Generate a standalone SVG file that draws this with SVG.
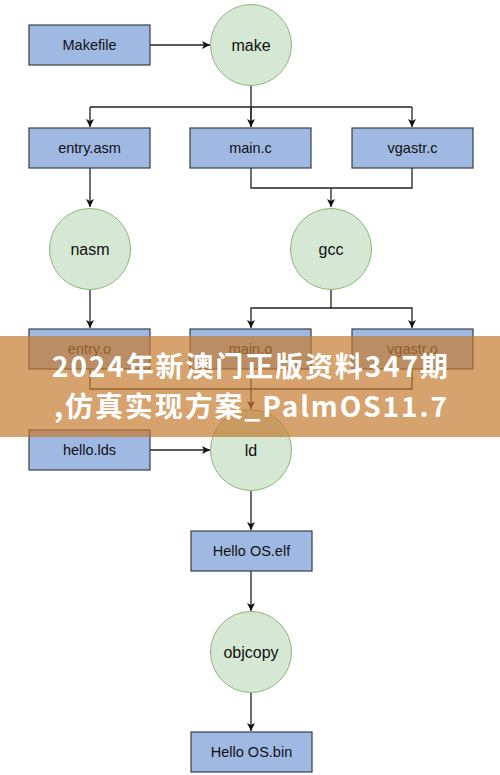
<svg xmlns="http://www.w3.org/2000/svg" width="500" height="775" viewBox="0 0 500 775">
<defs>
<marker id="ah" markerWidth="10" markerHeight="10" refX="9" refY="5" orient="auto" markerUnits="userSpaceOnUse">
<path d="M1,1 L9,5 L1,9 L3,5 Z" fill="#111"/>
</marker>
<style>
.box{fill:#a0b9e2;stroke:#3a3d42;stroke-width:1.2}
.cir{fill:#d5e8d4;stroke:#8fb57a;stroke-width:1}
.bt{font-family:"Liberation Sans",Arial,sans-serif;font-size:14.5px;fill:#111;text-anchor:middle;dominant-baseline:central}
.ct{font-family:"Liberation Sans",Arial,sans-serif;font-size:16px;fill:#111;text-anchor:middle;dominant-baseline:central}
.ln{fill:none;stroke:#222;stroke-width:1.3}
.ban{font-family:"Noto Sans CJK SC","Noto Sans",sans-serif;font-weight:bold;font-size:28px;fill:#fff}
</style>
</defs>
<rect width="500" height="775" fill="#fff"/>
<g id="connectors">
<path class="ln" d="M150,45 H210" marker-end="url(#ah)"/>
<path class="ln" d="M251,86 V127"/>
<path class="ln" d="M90,107 H412"/>
<path class="ln" d="M90,107 V127" marker-end="url(#ah)"/>
<path class="ln" d="M251,107 V127" marker-end="url(#ah)"/>
<path class="ln" d="M412,107 V127" marker-end="url(#ah)"/>
<path class="ln" d="M90,168 V207" marker-end="url(#ah)"/>
<path class="ln" d="M251,168 V188 H412 V168"/>
<path class="ln" d="M331,188 V207" marker-end="url(#ah)"/>
<path class="ln" d="M90,290 V328" marker-end="url(#ah)"/>
<path class="ln" d="M331,290 V308 H251 V328" marker-end="url(#ah)"/>
<path class="ln" d="M331,308 H412 V328" marker-end="url(#ah)"/>
<path class="ln" d="M90,369 V389 H412 V369"/>
<path class="ln" d="M251,369 V409" marker-end="url(#ah)"/>
<path class="ln" d="M150,450 H210" marker-end="url(#ah)"/>
<path class="ln" d="M251,491 V530" marker-end="url(#ah)"/>
<path class="ln" d="M251,571 V611" marker-end="url(#ah)"/>
<path class="ln" d="M251,693 V731" marker-end="url(#ah)"/>
</g>
<g id="makefile"><rect class="box" x="29" y="25" width="121" height="40"/><text class="bt" x="89.5" y="45">Makefile</text></g>
<g id="make"><circle class="cir" cx="251" cy="45" r="40.5"/><text class="ct" x="251" y="45">make</text></g>
<g id="entry-asm"><rect class="box" x="29" y="128" width="121" height="40"/><text class="bt" x="89.5" y="148">entry.asm</text></g>
<g id="main-c"><rect class="box" x="190" y="128" width="121" height="40"/><text class="bt" x="250.5" y="148">main.c</text></g>
<g id="vgastr-c"><rect class="box" x="352" y="128" width="121" height="40"/><text class="bt" x="412.5" y="148">vgastr.c</text></g>
<g id="nasm"><circle class="cir" cx="90" cy="249" r="40.5"/><text class="ct" x="90" y="249">nasm</text></g>
<g id="gcc"><circle class="cir" cx="331" cy="249" r="40.5"/><text class="ct" x="331" y="249">gcc</text></g>
<g id="entry-o"><rect class="box" x="29" y="329" width="121" height="40"/><text class="bt" x="89.5" y="349">entry.o</text></g>
<g id="main-o"><rect class="box" x="190" y="329" width="121" height="40"/><text class="bt" x="250.5" y="349">main.o</text></g>
<g id="vgastr-o"><rect class="box" x="352" y="329" width="121" height="40"/><text class="bt" x="412.5" y="349">vgastr.o</text></g>
<g id="hello-lds"><rect class="box" x="29" y="430" width="121" height="40"/><text class="bt" x="89.5" y="450">hello.lds</text></g>
<g id="ld"><circle class="cir" cx="251" cy="450" r="40.5"/><text class="ct" x="251" y="450">ld</text></g>
<g id="hello-elf"><rect class="box" x="191" y="531" width="121" height="40"/><text class="bt" x="251.5" y="551">Hello OS.elf</text></g>
<g id="objcopy"><circle class="cir" cx="251" cy="652" r="40.5"/><text class="ct" x="251" y="652">objcopy</text></g>
<g id="hello-bin"><rect class="box" x="191" y="732" width="121" height="40"/><text class="bt" x="251.5" y="752">Hello OS.bin</text></g>
<g id="banner">
<rect x="0" y="336" width="500" height="101" fill="rgb(196,122,48)" fill-opacity="0.7"/>
<text class="ban" x="52" y="377" textLength="396" lengthAdjust="spacing">2024年新澳门正版资料347期</text>
<text class="ban" x="54" y="417" textLength="393" lengthAdjust="spacing">,仿真实现方案_PalmOS11.7</text>
</g>
</svg>
